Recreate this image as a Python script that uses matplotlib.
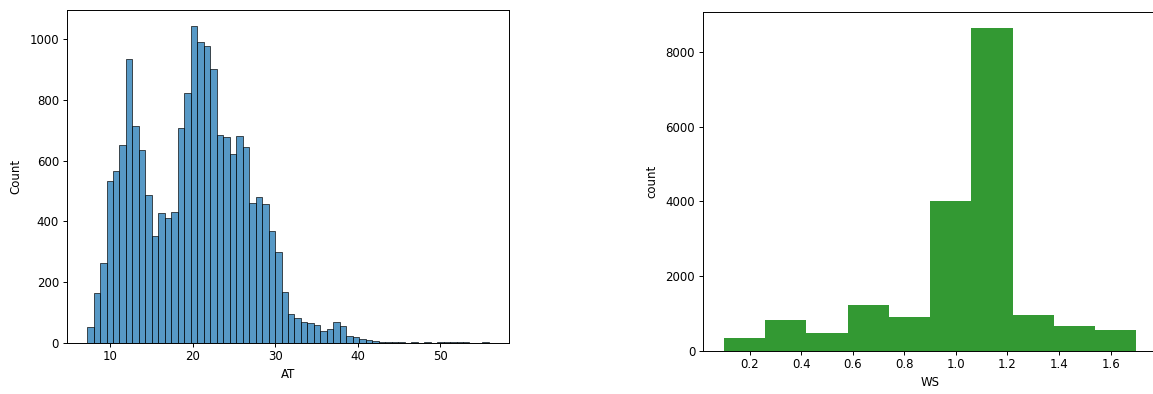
import numpy as np
import pandas as pd
import matplotlib
matplotlib.use("Agg")
import matplotlib.pyplot as plt
import seaborn as sns

# Ambient temperature (AT): per-bin counts over 62 equal-width bins
at_first_edge = 7.17
at_last_edge = 55.88
at_counts = [
    53, 163, 264, 534, 567, 652, 935, 715, 635, 486,
    352, 429, 412, 432, 708, 823, 1045, 991, 980, 902,
    685, 680, 623, 682, 644, 460, 480, 459, 368, 298,
    168, 94, 80, 67, 66, 59, 38, 46, 67, 54,
    23, 18, 13, 9, 6, 2, 1, 3, 1, 0,
    2, 0, 2, 0, 3, 2, 1, 1, 1, 0,
    0, 2,
]

# Wind speed (WS): counts over 10 equal-width bins
ws_first_edge = 0.1
ws_last_edge = 1.7
ws_counts = [332, 823, 466, 1217, 895, 4012, 8648, 949, 654, 555]

plt.rcParams.update({
    "font.size": 8.5,
    "axes.linewidth": 0.7,
    "xtick.major.size": 2.6,
    "ytick.major.size": 2.6,
    "xtick.major.width": 0.7,
    "ytick.major.width": 0.7,
    "xtick.major.pad": 2.8,
    "ytick.major.pad": 3.2,
    "axes.labelpad": 3.2,
})

W, H = 1153, 394
fig = plt.figure(figsize=(W / 100, H / 100), dpi=100)


def px_axes(left, top, right, bottom):
    return fig.add_axes([left / W, 1 - bottom / H, (right - left) / W, (bottom - top) / H])


# Left panel: seaborn histogram of AT
ax1 = px_axes(67, 10, 509, 342.7)
at_edges = np.linspace(at_first_edge, at_last_edge, len(at_counts) + 1)
at_df = pd.DataFrame({
    "AT": (at_edges[:-1] + at_edges[1:]) / 2,
    "n": at_counts,
})
sns.histplot(data=at_df, x="AT", weights="n", bins=at_edges.tolist(), ax=ax1)
ax1.set_xlabel("AT")
ax1.set_ylabel("Count", labelpad=5)
ax1.set_xticks([10, 20, 30, 40, 50])
ax1.set_yticks([0, 200, 400, 600, 800, 1000])

# Right panel: matplotlib histogram of WS
ax2 = px_axes(703.3, 11.7, 1157, 350.7)
ws_edges = np.linspace(ws_first_edge, ws_last_edge, len(ws_counts) + 1)
ws_centers = (ws_edges[:-1] + ws_edges[1:]) / 2
ax2.hist(ws_centers, bins=ws_edges, weights=ws_counts, color="green", alpha=0.8)
ax2.set_xlabel("WS")
ax2.set_ylabel("count", labelpad=5)
ax2.set_xticks([0.2, 0.4, 0.6, 0.8, 1.0, 1.2, 1.4, 1.6])
ax2.set_yticks([0, 2000, 4000, 6000, 8000])

fig.savefig("out.png", dpi=100)
